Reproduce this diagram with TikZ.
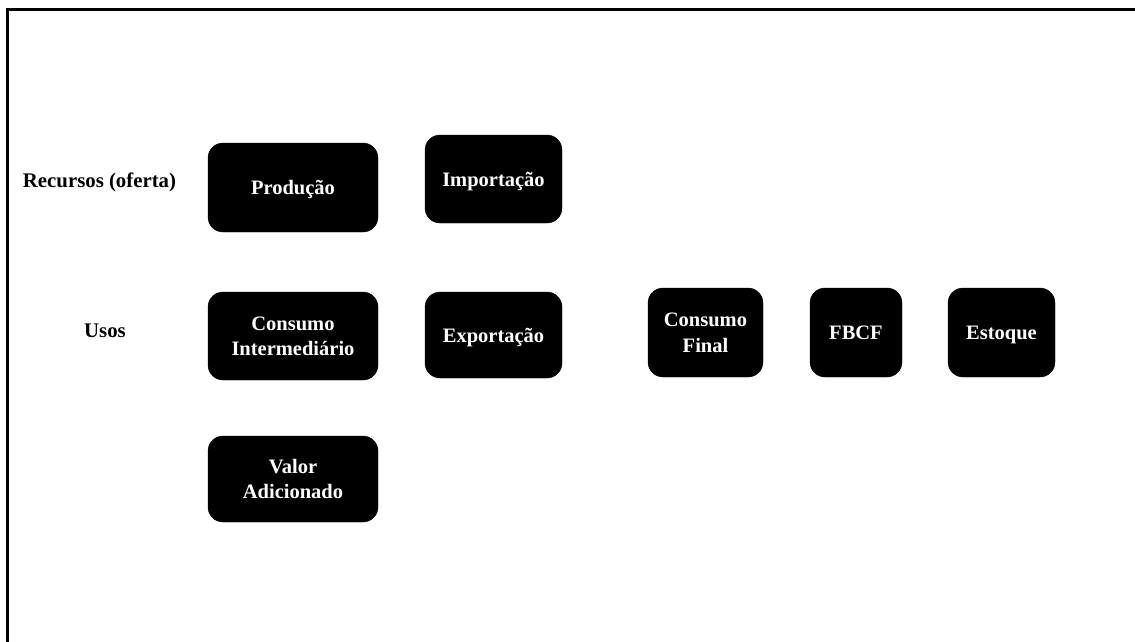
\documentclass[tikz,border=0pt]{standalone}
\usepackage{fontspec}
\setmainfont{Liberation Serif}
\begin{document}
\begin{tikzpicture}[x=1pt,y=-1pt,
  blk/.style={draw=black,fill=black,rounded corners=15pt,text=white,
    font=\fontsize{20.5}{25.5}\selectfont\bfseries,align=center,inner sep=0pt,text depth=0pt},
  lbl/.style={text=black,font=\fontsize{20.8}{25}\selectfont\bfseries,inner sep=0pt,anchor=base}]
\useasboundingbox (0,0) rectangle (1135,641);
\begin{scope}
\clip (0,0) rectangle (1135,641);
\draw[line width=3pt] (7,9.5) rectangle (1150,660);
\end{scope}
\node[lbl] (rec) at (99.5,187) {Recursos (oferta)};
\node[lbl] (usos) at (105,337) {Usos};
\node[blk,minimum width=170pt,minimum height=89pt] (prod) at (293,187.5) {Produção};
\node[blk,minimum width=137pt,minimum height=88pt] (imp) at (493.5,179) {Importação};
\node[blk,minimum width=170pt,minimum height=88pt] (ci) at (293,336) {Consumo\\Intermediário};
\node[blk,minimum width=137pt,minimum height=86pt] (exp) at (493.5,335) {Exportação};
\node[blk,minimum width=170pt,minimum height=86pt] (va) at (293,479) {Valor\\Adicionado};
\node[blk,minimum width=115pt,minimum height=89pt] (cf) at (705.5,332.5) {Consumo\\Final};
\node[blk,minimum width=92pt,minimum height=89pt] (fbcf) at (856,332.5) {FBCF};
\node[blk,minimum width=107pt,minimum height=89pt] (est) at (1001.5,332.5) {Estoque};
\end{tikzpicture}
\end{document}
